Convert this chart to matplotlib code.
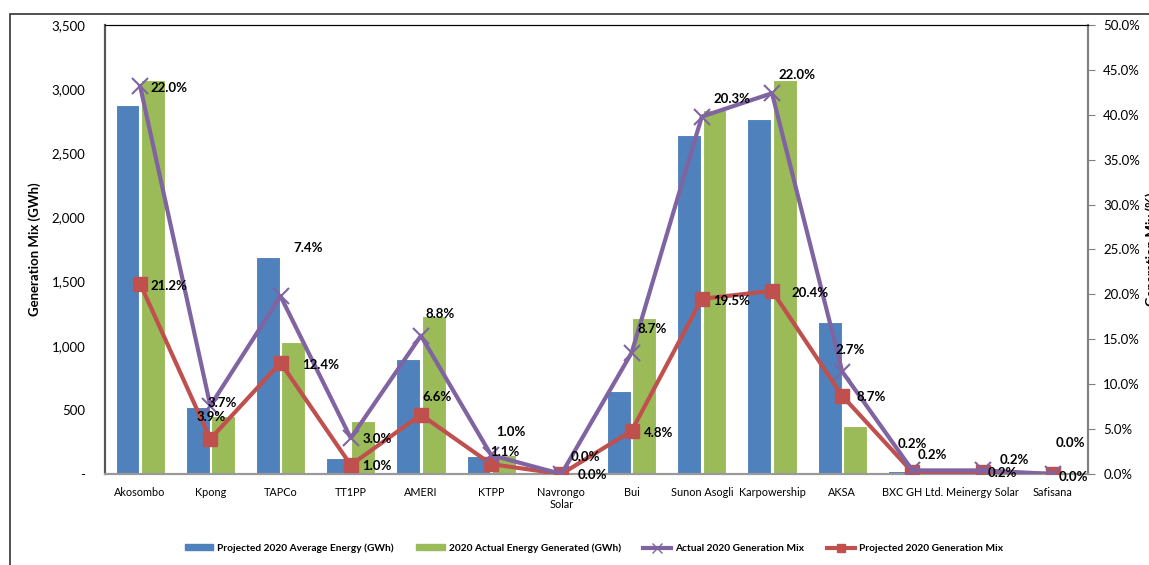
import numpy as np
import matplotlib
matplotlib.use('Agg')
import matplotlib.pyplot as plt
from matplotlib.patches import Rectangle
from matplotlib.lines import Line2D
from matplotlib.ticker import FuncFormatter, MultipleLocator

plt.rcParams['font.family'] = ['Lato', 'DejaVu Sans']

plants = ['Akosombo', 'Kpong', 'TAPCo', 'TT1PP', 'AMERI', 'KTPP', 'Navrongo\nSolar',
          'Bui', 'Sunon Asogli', 'Karpowership', 'AKSA', 'BXC GH Ltd.',
          'Meinergy Solar', 'Safisana']
projected_gwh = [2875, 522, 1690, 128, 895, 140, 4, 645, 2645, 2770, 1185, 22, 25, 0]
actual_gwh = [3070, 450, 1030, 415, 1228, 145, 4, 1215, 2835, 3068, 378, 20, 25, 0]
projected_mix = [21.2, 3.9, 12.4, 1.0, 6.6, 1.1, 0.0, 4.8, 19.5, 20.4, 8.7, 0.2, 0.2, 0.0]
actual_mix = [22.0, 3.7, 7.4, 3.0, 8.8, 1.0, 0.0, 8.7, 20.3, 22.0, 2.7, 0.2, 0.2, 0.0]

# label offsets in pixels (dx, dy) relative to each point
actual_off = [(29, -2), (12, 3), (28, 48), (27, -1), (19, 22), (20, 23), (24, 17),
              (21, 24), (30, 18), (25, 18), (8, 22), (0, 26), (32, 10), (17, 31)]
proj_off = [(29, -2), (1, 22), (40, -2), (26, -1), (16, 18), (14, 12), (31, -1),
            (27, -2), (30, -2), (38, -2), (29, -1), (20, 17), (20, -1), (20, -3)]

BLUE, GREEN, PURPLE, RED = '#4F81BD', '#9BBB59', '#8064A2', '#C0504D'

fig = plt.figure(figsize=(11.49, 5.65), dpi=100)
fig.patches.append(Rectangle((10 / 1149, -0.1), 1.2, 1 - 14 / 565 + 0.1,
                             transform=fig.transFigure, fill=False,
                             edgecolor='#333333', linewidth=1.2))
ax = fig.add_axes([105 / 1149, 1 - 474 / 565, 983 / 1149, 449 / 565])
ax2 = ax.twinx()

x = np.arange(len(plants))
w = 0.34
ax.bar(x - 0.18, projected_gwh, w, color=BLUE, edgecolor='white', linewidth=0.8, zorder=2)
ax.bar(x + 0.18, actual_gwh, w, color=GREEN, edgecolor='white', linewidth=0.8, zorder=2)

# stacked line chart: purple sits on top of red
proj_frac = np.array(projected_mix) / 100
stack_frac = proj_frac + np.array(actual_mix) / 100
ax2.plot(x, proj_frac, color=RED, linewidth=3, marker='s', markersize=10, zorder=3)
ax2.plot(x, stack_frac, color=PURPLE, linewidth=3, marker='x', markersize=11,
         markeredgewidth=1.5, zorder=4)

for i in range(len(plants)):
    ax2.annotate(f'{actual_mix[i]:.1f}%', (x[i], stack_frac[i]), xytext=actual_off[i],
                 textcoords='offset pixels', ha='center', va='center',
                 fontsize=9.5, fontweight='bold', zorder=6)
    ax2.annotate(f'{projected_mix[i]:.1f}%', (x[i], proj_frac[i]), xytext=proj_off[i],
                 textcoords='offset pixels', ha='center', va='center',
                 fontsize=9.5, fontweight='bold', zorder=6)

ax.set_xlim(-0.5, len(plants) - 0.5)
ax.set_ylim(0, 3500)
ax2.set_ylim(0, 0.5)
ax.yaxis.set_major_locator(MultipleLocator(500))
ax2.yaxis.set_major_locator(MultipleLocator(0.05))
ax.yaxis.set_major_formatter(FuncFormatter(lambda v, p: '-' if v == 0 else f'{v:,.0f}'))
ax2.yaxis.set_major_formatter(FuncFormatter(lambda v, p: f'{v * 100:.1f}%'))

ax.set_xticks(x)
ax.set_xticklabels(plants, fontsize=7.8)
ax.tick_params(axis='x', length=0, pad=9)
ax.tick_params(axis='y', length=0, labelsize=9.5, pad=14)
ax2.tick_params(axis='y', length=5, direction='out', color='#808080', labelsize=9.5, pad=6)

ax.set_ylabel('Generation Mix (GWh)', fontsize=9.5, fontweight='bold', labelpad=8)
ax2.set_ylabel('Generation Mix (%)', fontsize=9.5, fontweight='bold', labelpad=4)

for a in (ax, ax2):
    a.spines['top'].set_color('black')
    a.spines['left'].set_color('#555555')
    a.spines['left'].set_linewidth(1.5)
    a.spines['right'].set_color('#808080')
    a.spines['right'].set_linewidth(1.5)
    a.spines['bottom'].set_color('#999999')
    a.spines['bottom'].set_linewidth(1.5)

handles = [
    Rectangle((0, 0), 1, 1, color=BLUE),
    Rectangle((0, 0), 1, 1, color=GREEN),
    Line2D([], [], color=PURPLE, linewidth=3, marker='x', markersize=7),
    Line2D([], [], color=RED, linewidth=3, marker='s', markersize=6),
]
labels = ['Projected 2020 Average Energy (GWh)', '2020 Actual Energy Generated (GWh)',
          'Actual 2020 Generation Mix', 'Projected 2020 Generation Mix']
fig.legend(handles, labels, loc='center', bbox_to_anchor=(0.517, 1 - 548 / 565), ncol=4,
           frameon=False, prop={'size': 7.3, 'weight': 'bold'}, handlelength=2.8,
           handleheight=0.5, columnspacing=2.2, handletextpad=0.4)

fig.savefig('out.png', dpi=100)
